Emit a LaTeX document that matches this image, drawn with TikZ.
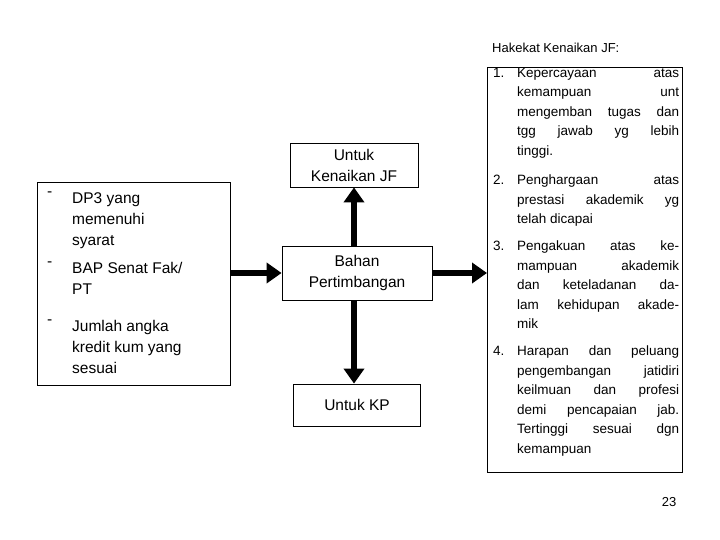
\documentclass[tikz,border=0pt]{standalone}
\usepackage{fontspec}
\setmainfont{Liberation Sans}
\usetikzlibrary{arrows.meta}
\begin{document}
\begin{tikzpicture}[x=1pt,y=-1pt,
  box/.style={draw,line width=0.8pt,align=center,inner sep=0pt,font=\fontsize{15.5}{21}\selectfont},
  fat/.style={line width=6pt,-{Triangle[length=15pt,width=20pt]}},
  itm/.style={anchor=north west,inner sep=0pt,text width=#1,font=\fontsize{13.5}{19.5}\selectfont,align=justify},
  lft/.style={anchor=north west,inner sep=0pt,font=\fontsize{15.5}{21}\selectfont,align=left}]
\useasboundingbox (0,0) rectangle (720,540);
\node[box,minimum width=128,minimum height=44] (jf) at (354,165) {Untuk\\Kenaikan JF};
\node[box,minimum width=150,minimum height=54] (bp) at (357,273) {Bahan\\Pertimbangan};
\node[box,minimum width=127,minimum height=42] (kp) at (357,405) {Untuk KP};
\node[draw,line width=0.8pt,minimum width=193,minimum height=203,anchor=north west] (lb) at (37,182) {};
\node[draw,line width=0.8pt,minimum width=195,minimum height=405,anchor=north west] (rb) at (487,67) {};
\node[anchor=south west,inner sep=0pt,font=\fontsize{13}{15}\selectfont] (ttl) at (492,53) {Hakekat Kenaikan JF:};
\node[font=\fontsize{13}{15}\selectfont] (pg) at (669,502) {23};
% left text
\node[lft] (t1) at (72,192) {DP3 yang\\memenuhi\\syarat};
\node[lft] (t2) at (72,262) {BAP Senat Fak/\\PT};
\node[lft] (t3) at (72,320) {Jumlah angka\\kredit kum yang\\sesuai};
\node[lft,anchor=north west] (d1) at (47,192) {-};
\node[lft,anchor=north west] (d2) at (47,262) {-};
\node[lft,anchor=north west] (d3) at (47,320) {-};
% right items
\node[itm=20] (n1) at (493,68) {1.};
\node[itm=162] (i1) at (517,68) {Kepercayaan atas\linebreak kemampuan unt\linebreak mengemban tugas dan\linebreak tgg jawab yg lebih\linebreak tinggi.};
\node[itm=20] (n2) at (493,175) {2.};
\node[itm=162] (i2) at (517,175) {Penghargaan atas\linebreak prestasi akademik yg\linebreak telah dicapai};
\node[itm=20] (n3) at (493,241) {3.};
\node[itm=162] (i3) at (517,241) {Pengakuan atas ke-\linebreak mampuan akademik\linebreak dan keteladanan da-\linebreak lam kehidupan akade-\linebreak mik};
\node[itm=20] (n4) at (493,346) {4.};
\node[itm=162] (i4) at (517,346) {Harapan dan peluang\linebreak pengembangan jatidiri\linebreak keilmuan dan profesi\linebreak demi pencapaian jab.\linebreak Tertinggi sesuai dgn\linebreak kemampuan};
% arrows
\draw[fat] (bp.north -| jf.south) -- (jf.south);
\draw[fat] (bp.south -| jf.south) -- (kp.north -| jf.south);
\draw[fat] (lb.east |- bp.west) -- (bp.west);
\draw[fat] (bp.east) -- (rb.west |- bp.east);
\end{tikzpicture}
\end{document}
